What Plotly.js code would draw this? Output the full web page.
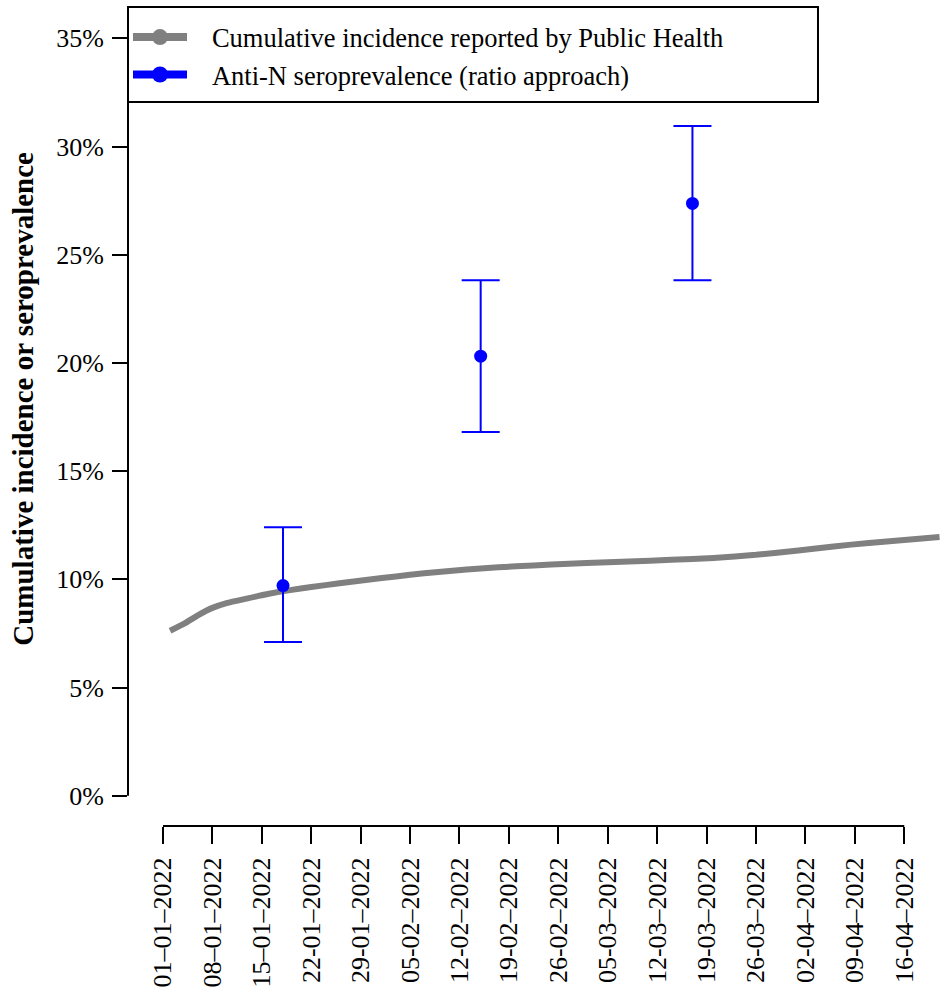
<!DOCTYPE html>
<html>
<head>
<meta charset="utf-8">
<script src="https://cdn.plot.ly/plotly-3.0.1.min.js"></script>
<style>html,body{margin:0;padding:0;background:#fff;}#chart{width:941px;height:988px;}</style>
</head>
<body>
<div id="chart"></div>
<script>
// Cumulative incidence reported by Public Health (%)
var incDates = ['2022-01-02','2022-01-04','2022-01-06','2022-01-08','2022-01-10','2022-01-13','2022-01-16','2022-01-19','2022-01-22','2022-01-26','2022-01-30','2022-02-03','2022-02-07','2022-02-11','2022-02-15','2022-02-20','2022-02-25','2022-03-02','2022-03-08','2022-03-14','2022-03-20','2022-03-26','2022-04-01','2022-04-06','2022-04-11','2022-04-16','2022-04-21'];
var incValues = [7.62,7.95,8.35,8.68,8.90,9.12,9.33,9.50,9.64,9.82,9.98,10.13,10.28,10.40,10.50,10.60,10.68,10.75,10.82,10.90,10.99,11.13,11.33,11.52,11.68,11.82,11.96];

// Anti-N seroprevalence (ratio approach) with confidence limits (%)
var seroDates = ['2022-01-18','2022-02-15','2022-03-17'];
var seroValues = [9.71,20.31,27.37];
var seroUpper = [12.41,23.82,30.95];
var seroLower = [7.10,16.81,23.82];

// Axis ticks
var xTickVals = ['2022-01-01','2022-01-08','2022-01-15','2022-01-22','2022-01-29','2022-02-05','2022-02-12','2022-02-19','2022-02-26','2022-03-05','2022-03-12','2022-03-19','2022-03-26','2022-04-02','2022-04-09','2022-04-16'];
var xTickText = ['01\u201301\u20132022','08\u201301\u20132022','15\u201301\u20132022','22-01\u20132022','29-01\u20132022','05-02\u20132022','12-02\u20132022','19-02\u20132022','26-02\u20132022','05-03\u20132022','12-03\u20132022','19-03\u20132022','26-03\u20132022','02-04\u20132022','09-04\u20132022','16-04\u20132022'];
var yTickVals = [0,5,10,15,20,25,30,35];
var yTickText = ['0%','5%','10%','15%','20%','25%','30%','35%'];

var legendNames = ['Cumulative incidence reported by Public Health','Anti-N seroprevalence (ratio approach)'];
var yTitle = 'Cumulative incidence or seroprevalence';

var FONT = '"Liberation Serif", "Times New Roman", serif';
var GRAY = '#808080', BLUE = '#0000ff';
var PAD = '\u00a0\u00a0\u00a0';
var TPAD = '\u00a0\u00a0\u00a0\u00a0\u00a0';

var errPlus = seroUpper.map(function(u,i){return u - seroValues[i];});
var errMinus = seroLower.map(function(l,i){return seroValues[i] - l;});

var traces = [
  {x: incDates, y: incValues, type:'scatter', mode:'lines', line:{color:GRAY, width:6, shape:'spline', smoothing:0.6}, showlegend:false, hoverinfo:'skip'},
  {x: seroDates, y: seroValues, type:'scatter', mode:'markers', marker:{color:BLUE, size:13},
   error_y:{type:'data', symmetric:false, array:errPlus, arrayminus:errMinus, color:BLUE, thickness:2, width:19},
   showlegend:false, hoverinfo:'skip'},
  {x:[null], y:[null], type:'scatter', mode:'lines+markers', name:PAD + legendNames[0], line:{color:GRAY, width:8}, marker:{color:GRAY, size:16}},
  {x:[null], y:[null], type:'scatter', mode:'lines+markers', name:PAD + legendNames[1], line:{color:BLUE, width:8}, marker:{color:BLUE, size:16}}
];

var layout = {
  width: 941, height: 988,
  margin: {l:128, r:0, t:8, b:162, pad:0},
  paper_bgcolor:'#ffffff', plot_bgcolor:'#ffffff',
  font: {family: FONT, size: 26, color:'#000000'},
  showlegend: true,
  legend: {x:0, y:0.9935, xanchor:'left', yanchor:'top', bgcolor:'rgba(0,0,0,0)', borderwidth:0, font:{family:FONT, size:26.5}, itemwidth:54, tracegroupgap:0},
  xaxis: {type:'date', range:['2021-12-27 01:00','2022-04-21 05:00'], tickmode:'array', tickvals:xTickVals, ticktext:xTickText,
          tickangle:-90, ticks:'outside', ticklen:17, tickwidth:2, tickcolor:'#000', showgrid:false, zeroline:false, showline:false,
          tickfont:{family:FONT, size:26}, ticklabelstandoff:3, fixedrange:true},
  yaxis: {range:[-1.4, 36.4], tickmode:'array', tickvals:yTickVals, ticktext:yTickText, ticks:'outside', ticklen:15, tickwidth:2, tickcolor:'#000',
          showgrid:false, zeroline:false, showline:false, tickfont:{family:FONT, size:26}, ticklabelstandoff:3,
          title:{text:'<b>' + TPAD + yTitle + '</b>', font:{family:FONT, size:29}, standoff:13}, fixedrange:true},
  shapes: [
    {type:'line', xref:'paper', yref:'y', x0:0, x1:0, y0:yTickVals[0], y1:yTickVals[yTickVals.length-1], line:{color:'#000', width:2}},
    {type:'line', xref:'x', yref:'paper', x0:xTickVals[0], x1:xTickVals[xTickVals.length-1], y0:0, y1:0, line:{color:'#000', width:2}},
    {type:'rect', xref:'paper', yref:'paper', x0:0, x1:0.8487, y0:0.8851, y1:1.0012, line:{color:'#000', width:2}, fillcolor:'rgba(0,0,0,0)', layer:'above'}
  ]
};

Plotly.newPlot('chart', traces, layout, {displayModeBar:false, staticPlot:true});
</script>
</body>
</html>
